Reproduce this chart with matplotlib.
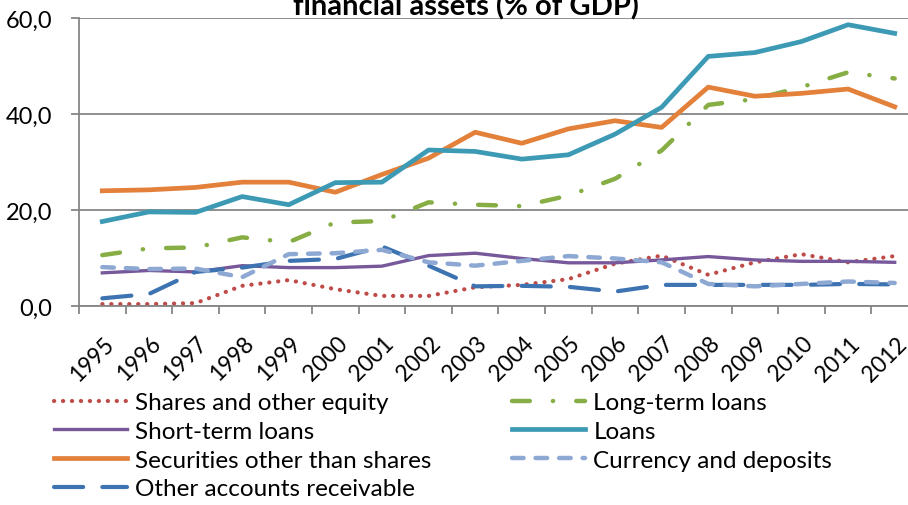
import matplotlib
matplotlib.use("Agg")
import matplotlib.pyplot as plt
from matplotlib.ticker import FuncFormatter, FixedLocator
from matplotlib.transforms import ScaledTranslation

years = [str(y) for y in range(1995, 2013)]

shares = [0.4, 0.4, 0.6, 4.2, 5.4, 3.5, 2.1, 2.1, 3.9, 4.4, 5.6, 8.8, 10.5, 6.5, 9.1, 10.8, 9.1, 10.4]
long_term = [10.6, 12.0, 12.2, 14.3, 13.3, 17.4, 17.7, 21.6, 21.1, 20.8, 23.0, 26.5, 32.4, 41.9, 43.1, 45.6, 48.7, 47.4]
short_term = [6.9, 7.4, 7.1, 8.4, 8.0, 8.0, 8.3, 10.5, 11.0, 9.9, 9.0, 9.0, 9.6, 10.3, 9.6, 9.3, 9.3, 9.1]
loans = [17.6, 19.6, 19.5, 22.8, 21.1, 25.7, 25.8, 32.5, 32.2, 30.6, 31.5, 35.8, 41.4, 52.0, 52.8, 55.1, 58.6, 56.8]
securities = [24.0, 24.2, 24.7, 25.8, 25.8, 23.7, 27.4, 30.8, 36.2, 33.9, 36.9, 38.6, 37.2, 45.6, 43.7, 44.3, 45.2, 41.5]
currency = [8.1, 7.7, 7.8, 6.0, 10.8, 11.0, 11.7, 9.1, 8.4, 9.4, 10.4, 9.9, 9.1, 4.6, 4.1, 4.6, 5.1, 4.8]
other_acc = [1.6, 2.5, 7.1, 8.0, 9.4, 9.8, 12.4, 8.4, 4.1, 4.2, 4.0, 3.0, 4.4, 4.4, 4.4, 4.4, 4.6, 4.5]

plt.rcParams['font.family'] = ['Lato', 'DejaVu Sans']

fig = plt.figure(figsize=(9.08, 5.06), dpi=100)
ax = fig.add_axes([79 / 908, 1 - 307 / 506, 839 / 908, 288 / 506])

x = list(range(len(years)))

h_shares, = ax.plot(x, shares, color='#BE4B48', lw=3.0, linestyle=(0, (0.05, 2.1)),
                    dash_capstyle='round', label='Shares and other equity')
h_short, = ax.plot(x, short_term, color='#77589A', lw=2.4, label='Short-term loans')
h_sec, = ax.plot(x, securities, color='#E3803A', lw=3.4, label='Securities other than shares')
h_other, = ax.plot(x, other_acc, color='#3E73B2', lw=3.0, linestyle=(0, (7, 4.6)),
                   dash_capstyle='round', label='Other accounts receivable')
h_long, = ax.plot(x, long_term, color='#87AD45', lw=3.2, linestyle=(0, (4, 5.2, 0.05, 5.2)),
                  dash_capstyle='round', label='Long-term loans')
h_loans, = ax.plot(x, loans, color='#3D9AB5', lw=3.4, label='Loans')
h_cur, = ax.plot(x, currency, color='#8DA8D2', lw=3.2, linestyle=(0, (2.6, 2.7)),
                 dash_capstyle='round', label='Currency and deposits')

# keep the two big series on top like the original
for h in [h_loans, h_sec]:
    h.set_zorder(3)

ax.set_xlim(-0.5, len(years) - 0.5)
ax.set_ylim(0, 60)
ax.set_yticks([0, 20, 40, 60])
ax.yaxis.set_major_formatter(FuncFormatter(lambda v, p: f"{v:.1f}".replace('.', ',')))
ax.grid(axis='y', color='#868686', lw=1.3)
ax.set_axisbelow(True)

ax.set_xticks(x)
ax.set_xticklabels(years, rotation=45, ha='right', rotation_mode='anchor')
ax.xaxis.set_minor_locator(FixedLocator([i - 0.5 for i in range(len(years) + 1)]))
ax.tick_params(axis='x', which='major', length=0, pad=19, labelsize=16.3)
ax.tick_params(axis='x', which='minor', length=6, width=1.3, color='#868686', direction='out')
ax.tick_params(axis='y', length=6, width=1.3, color='#868686', labelsize=17, pad=13)
# nudge year labels a touch to the right
shift = ScaledTranslation(1.0 / 100, 0, fig.dpi_scale_trans)
for lbl in ax.get_xticklabels():
    lbl.set_transform(lbl.get_transform() + shift)

for s in ['top', 'right']:
    ax.spines[s].set_visible(False)
for s in ['left', 'bottom']:
    ax.spines[s].set_color('#868686')
    ax.spines[s].set_linewidth(1.3)

fig.text(466 / 908, 1 - 15 / 506, 'financial assets (% of GDP)', ha='center', va='baseline',
         fontsize=21, fontweight='bold')

handles = [h_shares, h_short, h_sec, h_other, h_long, h_loans, h_cur]
fig.legend(handles=handles, labels=[h.get_label() for h in handles], ncol=2,
           loc='upper left', bbox_to_anchor=(54 / 908, 1 - 393 / 506), frameon=False,
           fontsize=17.5, handlelength=3.0, handletextpad=0.35, labelspacing=0.32,
           columnspacing=3.3, borderpad=0, borderaxespad=0)

fig.savefig('out.png', dpi=100)
